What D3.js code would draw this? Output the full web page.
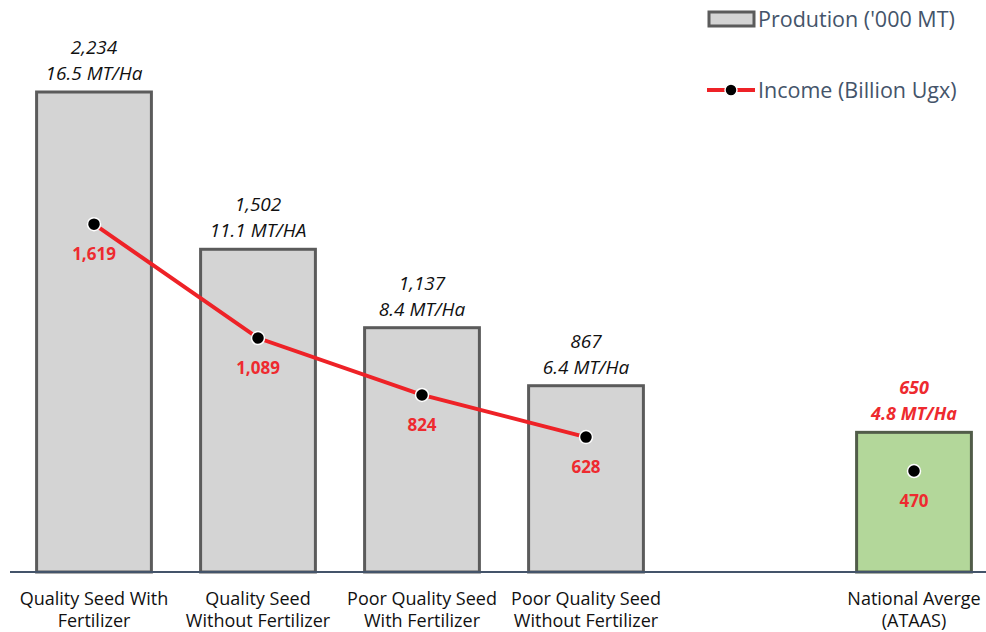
<!DOCTYPE html>
<html>
<head>
<meta charset="utf-8">
<script src="https://cdn.jsdelivr.net/npm/d3@7/dist/d3.min.js"></script>
<style>
  html, body { margin: 0; padding: 0; background: #fff; }
  text { font-family: "Open Sans", "Noto Sans", sans-serif; }
</style>
</head>
<body>
<div id="chart"></div>
<script>
// Categories (the empty slot keeps the gap before the national average)
const categories = [
  ["Quality Seed With", "Fertilizer"],
  ["Quality Seed", "Without Fertilizer"],
  ["Poor Quality Seed", "With Fertilizer"],
  ["Poor Quality Seed", "Without Fertilizer"],
  null,
  ["National Averge", "(ATAAS)"]
];
const production = [2234, 1502, 1137, 867, null, 650];
const yieldLabels = ["16.5 MT/Ha", "11.1 MT/HA", "8.4 MT/Ha", "6.4 MT/Ha", null, "4.8 MT/Ha"];
const income = [1619, 1089, 824, 628, null, 470];
const legendLabels = ["Prodution ('000 MT)", "Income (Billion Ugx)"];

const width = 986, height = 632;
const baseY = 572;

const svg = d3.select("#chart").append("svg")
  .attr("width", width)
  .attr("height", height);

const idx = categories.map((_, i) => i);
const x = d3.scaleBand()
  .domain(idx)
  .range([12, 996])
  .paddingInner(0.3)
  .paddingOuter(0.15);

const y = d3.scaleLinear()
  .domain([0, 2234])
  .range([baseY, 92]);

const fmt = d3.format(",");
const isNat = i => i === categories.length - 1;

// Bars
svg.selectAll(".bar")
  .data(idx.filter(i => production[i] != null))
  .enter()
  .append("rect")
  .attr("class", "bar")
  .attr("x", i => x(i))
  .attr("y", i => y(production[i]))
  .attr("width", x.bandwidth())
  .attr("height", i => baseY - y(production[i]))
  .attr("fill", i => isNat(i) ? "#b3d79a" : "#d4d4d4")
  .attr("stroke", i => isNat(i) ? "#515c49" : "#5b5b5b")
  .attr("stroke-width", 3);

// Axis line
svg.append("line")
  .attr("x1", 10).attr("x2", width)
  .attr("y1", baseY).attr("y2", baseY)
  .attr("stroke", "#44546a")
  .attr("stroke-width", 2);

// Production labels above bars
idx.filter(i => production[i] != null).forEach(i => {
  const cx = x(i) + x.bandwidth() / 2;
  const top = y(production[i]);
  const g = svg.append("g")
    .attr("fill", isNat(i) ? "#ee2a2f" : "#111")
    .style("font-style", "italic")
    .style("font-weight", isNat(i) ? "bold" : "normal")
    .style("font-size", isNat(i) ? "18px" : "19px")
    .attr("text-anchor", "middle");
  g.append("text").attr("x", cx).attr("y", top - 38).text(fmt(production[i]));
  g.append("text").attr("x", cx).attr("y", top - 12).text(yieldLabels[i]);
});

// Category labels
idx.filter(i => categories[i]).forEach(i => {
  const cx = x(i) + x.bandwidth() / 2;
  categories[i].forEach((line, k) => {
    svg.append("text")
      .attr("x", cx)
      .attr("y", 605 + k * 22)
      .attr("text-anchor", "middle")
      .style("font-size", "18px")
      .attr("fill", "#111")
      .text(line);
  });
});

// Income line (only first four are connected)
const lineIdx = [0, 1, 2, 3];
const line = d3.line()
  .x(i => x(i) + x.bandwidth() / 2)
  .y(i => y(income[i]));

svg.append("path")
  .datum(lineIdx)
  .attr("fill", "none")
  .attr("stroke", "#ee2227")
  .attr("stroke-width", 4)
  .attr("d", line);

const pts = idx.filter(i => income[i] != null);
svg.selectAll(".dot")
  .data(pts)
  .enter()
  .append("circle")
  .attr("cx", i => x(i) + x.bandwidth() / 2)
  .attr("cy", i => y(income[i]))
  .attr("r", 6.5)
  .attr("fill", "#000")
  .attr("stroke", "#fff")
  .attr("stroke-width", 1.5);

svg.selectAll(".inc-label")
  .data(pts)
  .enter()
  .append("text")
  .attr("x", i => x(i) + x.bandwidth() / 2)
  .attr("y", i => y(income[i]) + 36)
  .attr("text-anchor", "middle")
  .attr("fill", "#ee2a2f")
  .style("font-weight", "bold")
  .style("font-size", "17px")
  .text(i => fmt(income[i]));

// Legend
const legend = svg.append("g");
legend.append("rect")
  .attr("x", 709).attr("y", 12)
  .attr("width", 45).attr("height", 14)
  .attr("fill", "#d4d4d4")
  .attr("stroke", "#5b5b5b")
  .attr("stroke-width", 3);
legend.append("line")
  .attr("x1", 707).attr("x2", 755)
  .attr("y1", 90).attr("y2", 90)
  .attr("stroke", "#ee2227")
  .attr("stroke-width", 4);
legend.append("circle")
  .attr("cx", 731).attr("cy", 90)
  .attr("r", 6)
  .attr("fill", "#000")
  .attr("stroke", "#fff")
  .attr("stroke-width", 1.5);
legendLabels.forEach((t, k) => {
  legend.append("text")
    .attr("x", 758)
    .attr("y", 27 + k * 71)
    .attr("fill", "#44546a")
    .style("font-size", "21.5px")
    .text(t);
});
</script>
</body>
</html>
